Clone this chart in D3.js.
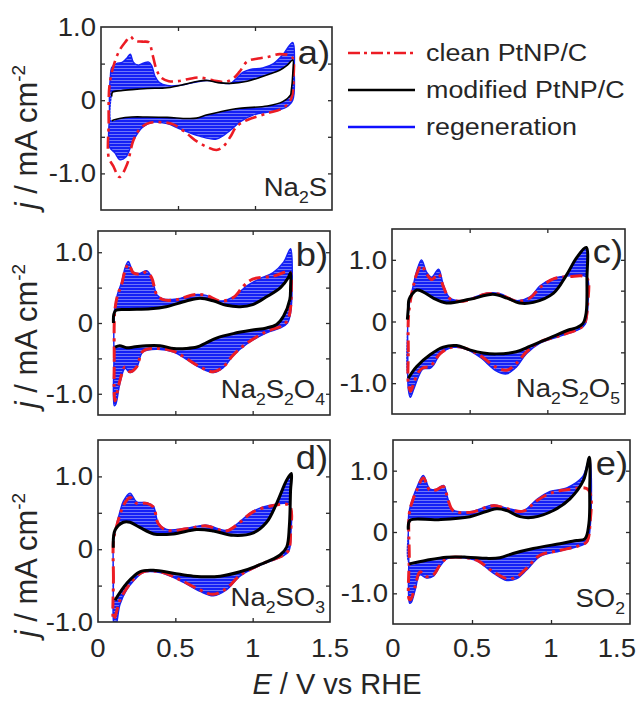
<!DOCTYPE html>
<html>
<head>
<meta charset="utf-8">
<script src="https://cdn.jsdelivr.net/npm/d3@7"></script>
<style>
  body { margin: 0; background: #fff; }
  svg { display: block; }
  text { font-family: "Liberation Sans", Arial, Helvetica, sans-serif; fill: #262626; }
</style>
</head>
<body>
<svg id="fig" width="638" height="702"></svg>
<script>
// Cyclic voltammograms, E (V vs RHE) vs j (mA cm^-2), as [E, j] pairs.

// a) Na2S
const aClean = [[0.05,-0.78],[0.05,-0.3],[0.05,0.0],[0.055,0.2],[0.08,0.46],[0.12,0.68],[0.16,0.8],[0.19,0.87],[0.22,0.81],[0.27,0.8],[0.31,0.79],[0.335,0.62],[0.36,0.42],[0.39,0.31],[0.44,0.26],[0.5,0.26],[0.57,0.29],[0.64,0.31],[0.73,0.27],[0.81,0.25],[0.86,0.3],[0.9,0.39],[0.95,0.53],[1.02,0.57],[1.08,0.59],[1.16,0.63],[1.24,0.59],[1.25,0.3],[1.235,0.02],[1.18,-0.11],[1.08,-0.18],[0.95,-0.27],[0.88,-0.36],[0.84,-0.5],[0.79,-0.64],[0.75,-0.68],[0.69,-0.64],[0.62,-0.56],[0.56,-0.46],[0.47,-0.33],[0.38,-0.3],[0.3,-0.32],[0.25,-0.4],[0.21,-0.55],[0.17,-0.87],[0.12,-1.05],[0.08,-0.9]];
const aModified = [[0.07,0.05],[0.075,0.11],[0.13,0.13],[0.2,0.145],[0.3,0.16],[0.43,0.17],[0.55,0.22],[0.63,0.26],[0.69,0.27],[0.76,0.24],[0.84,0.23],[0.95,0.26],[1.03,0.31],[1.1,0.36],[1.16,0.41],[1.21,0.48],[1.245,0.55],[1.245,0.35],[1.235,0.12],[1.23,0.07],[1.18,-0.02],[1.08,-0.08],[0.9,-0.11],[0.77,-0.16],[0.69,-0.2],[0.62,-0.245],[0.56,-0.25],[0.43,-0.235],[0.3,-0.23],[0.2,-0.23],[0.12,-0.25],[0.07,-0.28]];
const aRegen = [[0.055,-0.64],[0.055,-0.2],[0.055,0.1],[0.06,0.3],[0.07,0.45],[0.1,0.5],[0.14,0.52],[0.17,0.58],[0.19,0.63],[0.21,0.52],[0.24,0.48],[0.28,0.51],[0.31,0.52],[0.33,0.47],[0.35,0.33],[0.38,0.24],[0.43,0.2],[0.5,0.2],[0.6,0.24],[0.69,0.27],[0.77,0.24],[0.84,0.23],[0.88,0.3],[0.92,0.38],[0.97,0.42],[1.05,0.44],[1.12,0.5],[1.18,0.62],[1.245,0.79],[1.255,0.4],[1.245,0.0],[1.2,-0.1],[1.12,-0.15],[0.99,-0.2],[0.9,-0.3],[0.84,-0.41],[0.75,-0.53],[0.64,-0.49],[0.51,-0.39],[0.43,-0.32],[0.34,-0.3],[0.27,-0.37],[0.21,-0.55],[0.16,-0.78],[0.12,-0.81],[0.09,-0.72]];

// b) Na2S2O4
const bClean = [[0.105,-1.0],[0.105,-0.5],[0.105,0.0],[0.11,0.2],[0.125,0.38],[0.153,0.55],[0.175,0.74],[0.196,0.83],[0.215,0.76],[0.228,0.71],[0.27,0.69],[0.315,0.72],[0.347,0.64],[0.365,0.5],[0.38,0.4],[0.42,0.33],[0.51,0.33],[0.62,0.4],[0.7,0.39],[0.79,0.31],[0.875,0.36],[0.94,0.52],[1.0,0.62],[1.13,0.66],[1.24,0.72],[1.25,0.52],[1.24,0.14],[1.22,0.02],[1.18,-0.05],[1.09,-0.12],[0.96,-0.29],[0.875,-0.45],[0.81,-0.62],[0.745,-0.69],[0.66,-0.62],[0.57,-0.5],[0.49,-0.4],[0.38,-0.36],[0.29,-0.4],[0.25,-0.62],[0.207,-0.69],[0.175,-0.62],[0.142,-0.81],[0.11,-1.1]];
const bModified = [[0.1,0.0],[0.102,0.12],[0.116,0.18],[0.2,0.19],[0.34,0.2],[0.44,0.23],[0.57,0.31],[0.66,0.35],[0.75,0.31],[0.83,0.25],[0.92,0.23],[1.0,0.26],[1.09,0.37],[1.18,0.5],[1.23,0.64],[1.245,0.71],[1.245,0.5],[1.24,0.33],[1.2,0.1],[1.155,-0.02],[1.09,-0.07],[1.0,-0.1],[0.875,-0.15],[0.77,-0.21],[0.7,-0.28],[0.64,-0.34],[0.57,-0.36],[0.49,-0.36],[0.4,-0.32],[0.31,-0.32],[0.23,-0.34],[0.185,-0.35],[0.14,-0.32],[0.11,-0.34]];
const bRegen = [[0.105,-1.17],[0.103,-0.5],[0.103,0.0],[0.108,0.2],[0.125,0.4],[0.153,0.58],[0.175,0.78],[0.196,0.87],[0.215,0.78],[0.228,0.72],[0.27,0.7],[0.315,0.74],[0.347,0.64],[0.365,0.5],[0.38,0.4],[0.42,0.34],[0.51,0.34],[0.62,0.4],[0.7,0.39],[0.79,0.31],[0.875,0.37],[0.96,0.52],[1.04,0.62],[1.13,0.71],[1.2,0.86],[1.245,1.05],[1.255,0.5],[1.245,0.14],[1.225,0.0],[1.18,-0.07],[1.09,-0.14],[0.96,-0.3],[0.875,-0.46],[0.81,-0.63],[0.745,-0.7],[0.66,-0.63],[0.57,-0.51],[0.49,-0.41],[0.38,-0.37],[0.29,-0.41],[0.25,-0.63],[0.207,-0.7],[0.175,-0.64],[0.142,-0.85],[0.115,-1.15]];

// c) Na2S2O5
const cClean = [[0.105,-1.0],[0.105,-0.5],[0.105,0.03],[0.116,0.3],[0.14,0.6],[0.159,0.77],[0.19,0.91],[0.223,0.77],[0.255,0.68],[0.3,0.77],[0.33,0.57],[0.373,0.37],[0.46,0.33],[0.61,0.45],[0.695,0.44],[0.8,0.33],[0.888,0.38],[0.953,0.55],[1.04,0.69],[1.146,0.73],[1.253,0.71],[1.26,0.3],[1.24,-0.03],[1.21,-0.11],[1.08,-0.23],[0.953,-0.33],[0.867,-0.49],[0.8,-0.68],[0.738,-0.79],[0.67,-0.74],[0.567,-0.55],[0.48,-0.44],[0.395,-0.41],[0.31,-0.52],[0.27,-0.66],[0.245,-0.73],[0.2,-0.75],[0.17,-0.82],[0.14,-1.0],[0.12,-1.13]];
const cModified = [[0.099,0.03],[0.105,0.22],[0.11,0.36],[0.159,0.51],[0.2,0.48],[0.266,0.38],[0.35,0.3],[0.5,0.36],[0.65,0.44],[0.74,0.38],[0.82,0.3],[0.91,0.31],[1.04,0.46],[1.12,0.74],[1.19,1.04],[1.25,1.2],[1.255,0.68],[1.25,0.14],[1.23,-0.03],[1.19,-0.1],[1.146,-0.13],[1.02,-0.26],[0.89,-0.4],[0.8,-0.49],[0.67,-0.525],[0.587,-0.51],[0.5,-0.46],[0.416,-0.39],[0.33,-0.415],[0.245,-0.54],[0.159,-0.73],[0.105,-0.92]];
const cRegen = [[0.105,-1.1],[0.102,-0.5],[0.102,0.03],[0.113,0.3],[0.14,0.62],[0.159,0.82],[0.19,1.0],[0.223,0.8],[0.255,0.72],[0.3,0.85],[0.33,0.6],[0.373,0.38],[0.46,0.34],[0.61,0.46],[0.695,0.45],[0.8,0.34],[0.888,0.4],[0.953,0.58],[1.04,0.7],[1.146,0.74],[1.253,0.72],[1.262,0.3],[1.245,-0.04],[1.21,-0.12],[1.08,-0.24],[0.953,-0.35],[0.867,-0.52],[0.8,-0.74],[0.738,-0.85],[0.67,-0.8],[0.567,-0.58],[0.48,-0.45],[0.395,-0.42],[0.31,-0.53],[0.27,-0.7],[0.245,-0.76],[0.2,-0.77],[0.17,-0.9],[0.14,-1.1],[0.118,-1.23]];

// d) Na2SO3
const dClean = [[0.1,-0.97],[0.1,-0.4],[0.1,0.12],[0.116,0.28],[0.14,0.46],[0.164,0.6],[0.207,0.71],[0.25,0.63],[0.315,0.63],[0.358,0.58],[0.39,0.35],[0.444,0.26],[0.573,0.28],[0.7,0.32],[0.83,0.25],[0.918,0.37],[1.0,0.51],[1.134,0.6],[1.237,0.6],[1.245,0.21],[1.233,-0.01],[1.2,-0.08],[1.05,-0.21],[0.918,-0.36],[0.83,-0.54],[0.746,-0.62],[0.66,-0.56],[0.53,-0.42],[0.4,-0.31],[0.293,-0.31],[0.228,-0.42],[0.185,-0.54],[0.142,-0.7],[0.11,-0.93]];
const dModified = [[0.099,0.02],[0.11,0.26],[0.164,0.37],[0.207,0.37],[0.27,0.3],[0.36,0.21],[0.487,0.21],[0.638,0.27],[0.746,0.25],[0.875,0.19],[1.0,0.22],[1.09,0.37],[1.155,0.63],[1.22,0.95],[1.25,1.04],[1.245,0.81],[1.237,0.31],[1.22,0.03],[1.177,-0.08],[1.05,-0.21],[0.918,-0.31],[0.79,-0.37],[0.616,-0.37],[0.487,-0.33],[0.358,-0.29],[0.27,-0.31],[0.185,-0.47],[0.11,-0.7]];
const dRegen = [[0.105,-1.05],[0.1,-0.4],[0.1,0.12],[0.116,0.3],[0.14,0.5],[0.164,0.66],[0.207,0.77],[0.25,0.65],[0.315,0.64],[0.358,0.59],[0.39,0.36],[0.444,0.27],[0.573,0.29],[0.7,0.33],[0.83,0.26],[0.918,0.38],[1.0,0.52],[1.134,0.61],[1.237,0.61],[1.247,0.21],[1.235,-0.02],[1.2,-0.09],[1.05,-0.22],[0.918,-0.37],[0.83,-0.56],[0.746,-0.64],[0.66,-0.58],[0.53,-0.43],[0.4,-0.32],[0.293,-0.32],[0.228,-0.44],[0.185,-0.56],[0.142,-0.76],[0.115,-1.05]];

// e) SO2
const eClean = [[0.103,-1.1],[0.103,-0.4],[0.103,0.3],[0.125,0.52],[0.15,0.68],[0.192,0.88],[0.234,0.68],[0.276,0.69],[0.32,0.74],[0.35,0.51],[0.38,0.35],[0.487,0.32],[0.635,0.43],[0.72,0.38],[0.825,0.34],[0.91,0.51],[0.994,0.63],[1.1,0.69],[1.236,0.69],[1.247,0.14],[1.226,-0.16],[1.18,-0.22],[1.057,-0.3],[0.93,-0.38],[0.846,-0.59],[0.783,-0.73],[0.72,-0.76],[0.635,-0.65],[0.53,-0.46],[0.424,-0.41],[0.34,-0.43],[0.297,-0.54],[0.255,-0.7],[0.213,-0.73],[0.17,-0.65],[0.14,-0.89],[0.112,-1.1]];
const eModified = [[0.097,0.04],[0.108,0.19],[0.276,0.2],[0.487,0.25],[0.656,0.38],[0.72,0.35],[0.804,0.25],[0.888,0.24],[1.015,0.35],[1.12,0.54],[1.205,0.84],[1.243,1.22],[1.245,0.68],[1.24,0.14],[1.215,-0.11],[1.162,-0.14],[1.057,-0.19],[0.888,-0.27],[0.76,-0.35],[0.677,-0.42],[0.593,-0.43],[0.466,-0.41],[0.34,-0.41],[0.213,-0.46],[0.103,-0.52]];
const eRegen = [[0.105,-1.16],[0.1,-0.4],[0.1,0.3],[0.125,0.55],[0.15,0.72],[0.192,0.92],[0.234,0.7],[0.276,0.7],[0.32,0.76],[0.35,0.52],[0.38,0.36],[0.487,0.33],[0.635,0.44],[0.72,0.39],[0.825,0.35],[0.91,0.53],[0.994,0.66],[1.1,0.72],[1.2,0.9],[1.243,1.2],[1.25,0.14],[1.228,-0.17],[1.18,-0.23],[1.057,-0.31],[0.93,-0.4],[0.846,-0.62],[0.783,-0.76],[0.72,-0.79],[0.635,-0.67],[0.53,-0.47],[0.424,-0.42],[0.34,-0.44],[0.297,-0.56],[0.255,-0.72],[0.213,-0.75],[0.17,-0.7],[0.14,-0.95],[0.115,-1.15]];

// Axis ticks and labels
const xTickValues = [0, 0.5, 1, 1.5];
const xTickText = ["0", "0.5", "1", "1.5"];
const yLabelValues = [-1, 0, 1];
const yLabelText = ["-1.0", "0", "1.0"];
const seriesNames = ["clean PtNP/C", "modified PtNP/C", "regeneration"];
const panelLetters = ["a)", "b)", "c)", "d)", "e)"];
// chemical formulae: [text, isSubscript]
const compounds = [
  [["Na",0],["2",1],["S",0]],
  [["Na",0],["2",1],["S",0],["2",1],["O",0],["4",1]],
  [["Na",0],["2",1],["S",0],["2",1],["O",0],["5",1]],
  [["Na",0],["2",1],["SO",0],["3",1]],
  [["SO",0],["2",1]]
];

const RED = "#ec1c24", BLUE = "#1420f5", FRAME = "#2a2a2a";
const SX = 1.1;          // slight horizontal widening of the sans text
const DASH = "12,5,3,5"; // dash-dot

const layout = [
  { clean: aClean, modified: aModified, regen: aRegen, x0: 101, x1: 332, y0: 27,  y1: 210, yDom: [-1.5, 1.0], xLabels: false, blackW: 1.6, redW: 2.6, letterY: 64,  compY: 196 },
  { clean: bClean, modified: bModified, regen: bRegen, x0: 98,  x1: 330, y0: 231, y1: 415, yDom: [-1.3, 1.3], xLabels: false, blackW: 3,   redW: 3,   letterY: 266, compY: 398 },
  { clean: cClean, modified: cModified, regen: cRegen, x0: 392, x1: 625, y0: 229, y1: 414, yDom: [-1.5, 1.5], xLabels: false, blackW: 3,   redW: 3,   letterY: 263, compY: 397 },
  { clean: dClean, modified: dModified, regen: dRegen, x0: 98,  x1: 330, y0: 440, y1: 622, yDom: [-1.0, 1.5], xLabels: true,  blackW: 3,   redW: 3,   letterY: 469, compY: 606 },
  { clean: eClean, modified: eModified, regen: eRegen, x0: 393, x1: 630, y0: 440, y1: 624, yDom: [-1.5, 1.5], xLabels: true,  blackW: 3,   redW: 3,   letterY: 475, compY: 607 }
];

const svg = d3.select("#fig");
const defs = svg.append("defs");

// hatch that mimics the stack of thin regeneration cycles
const pat = defs.append("pattern").attr("id", "regenHatch")
  .attr("patternUnits", "userSpaceOnUse").attr("width", 6).attr("height", 3);
pat.append("rect").attr("width", 6).attr("height", 3).attr("fill", BLUE);
pat.append("rect").attr("y", 2).attr("width", 6).attr("height", 1).attr("fill", "#ffffff").attr("opacity", 0.38);

function stretched(parent, x, y, anchor, size, sx = SX) {
  return parent.append("text")
    .attr("transform", `translate(${x},${y}) scale(${sx},1)`)
    .attr("text-anchor", anchor)
    .attr("font-size", size);
}

layout.forEach((p, i) => {
  const x = d3.scaleLinear().domain([0, 1.5]).range([p.x0, p.x1]);
  const y = d3.scaleLinear().domain(p.yDom).range([p.y1, p.y0]);
  const g = svg.append("g");

  defs.append("clipPath").attr("id", "clip" + i)
    .append("rect").attr("x", p.x0).attr("y", p.y0)
    .attr("width", p.x1 - p.x0).attr("height", p.y1 - p.y0);

  const plot = g.append("g").attr("clip-path", `url(#clip${i})`);
  const open = d3.line().x(d => x(d[0])).y(d => y(d[1])).curve(d3.curveCatmullRom.alpha(0.5));
  const closed = d3.line().x(d => x(d[0])).y(d => y(d[1])).curve(d3.curveCatmullRomClosed.alpha(0.5));

  // regeneration cycles: band between the modified loop and the outermost cycle
  plot.append("path")
    .attr("d", closed(p.regen) + closed(p.modified))
    .attr("fill", "url(#regenHatch)")
    .attr("fill-rule", "evenodd");
  plot.append("path").attr("d", closed(p.regen))
    .attr("fill", "none").attr("stroke", BLUE).attr("stroke-width", 1.4);

  // clean electrode
  plot.append("path").attr("d", closed(p.clean))
    .attr("fill", "none").attr("stroke", RED).attr("stroke-width", p.redW)
    .attr("stroke-dasharray", DASH);

  // modified electrode
  plot.append("path").attr("d", open(p.modified))
    .attr("fill", "none").attr("stroke", "#000").attr("stroke-width", p.blackW)
    .attr("stroke-linejoin", "round");

  // inward tick marks on all four sides
  const yTicks = d3.range(Math.ceil(p.yDom[0] * 2) / 2, p.yDom[1] + 1e-9, 0.5)
    .filter(v => v > p.yDom[0] + 1e-9 && v < p.yDom[1] - 1e-9);
  const xTicks = [0.5, 1.0];
  const tickStyle = sel => {
    sel.select(".domain").remove();
    sel.selectAll(".tick line").attr("stroke", FRAME).attr("stroke-width", 1.3);
  };
  g.append("g").attr("transform", `translate(${p.x0},0)`)
    .call(d3.axisLeft(y).tickValues(yTicks).tickSize(-4).tickFormat("")).call(tickStyle);
  g.append("g").attr("transform", `translate(${p.x1},0)`)
    .call(d3.axisRight(y).tickValues(yTicks).tickSize(-4).tickFormat("")).call(tickStyle);
  g.append("g").attr("transform", `translate(0,${p.y1})`)
    .call(d3.axisBottom(x).tickValues(xTicks).tickSize(-4).tickFormat("")).call(tickStyle);
  g.append("g").attr("transform", `translate(0,${p.y0})`)
    .call(d3.axisTop(x).tickValues(xTicks).tickSize(-4).tickFormat("")).call(tickStyle);

  // frame
  g.append("rect").attr("x", p.x0).attr("y", p.y0)
    .attr("width", p.x1 - p.x0).attr("height", p.y1 - p.y0)
    .attr("fill", "none").attr("stroke", FRAME).attr("stroke-width", 1.6);

  // y tick labels
  yLabelValues.forEach((v, k) => {
    stretched(g, p.x0 - 5, y(v) + 9, "end", 25).text(yLabelText[k]);
  });
  // x tick labels on the bottom row (the last one kept inside the figure)
  if (p.xLabels) {
    xTickValues.forEach((v, k) => {
      const last = k === xTickValues.length - 1 && x(v) + 22 > 636;
      stretched(g, last ? 636 : x(v), 657, last ? "end" : "middle", 25).text(xTickText[k]);
    });
  }

  // panel letter
  stretched(g, p.x1 - 2, p.letterY, "end", 33).text(panelLetters[i]);

  // compound
  const ct = stretched(g, p.x1 - 5, p.compY, "end", 25);
  compounds[i].forEach(([s, sub], k) => {
    const prev = k > 0 ? compounds[i][k - 1][1] : 0;
    const t = ct.append("tspan").text(s);
    if (sub) t.attr("font-size", 16).attr("dy", prev ? 0 : 7);
    else if (prev) t.attr("dy", -7);
  });
});

// y axis titles
[137, 336, 565].forEach(cy => {
  const t = svg.append("text")
    .attr("transform", `translate(37,${cy}) rotate(-90)`)
    .attr("text-anchor", "middle").attr("font-size", 31);
  t.append("tspan").attr("font-style", "italic").text("j");
  t.append("tspan").text(" / mA cm");
  t.append("tspan").attr("font-size", 19).attr("dy", -12).text("-2");
});

// x axis title
const xt = svg.append("text").attr("x", 337).attr("y", 694)
  .attr("text-anchor", "middle").attr("font-size", 29);
xt.append("tspan").attr("font-style", "italic").text("E");
xt.append("tspan").text(" / V vs RHE");

// legend
const legend = svg.append("g");
const legendY = [53, 90, 127];
const legendStyle = [
  { stroke: RED, width: 2.4, dash: "12,4,3,4" },
  { stroke: "#000", width: 2.6, dash: null },
  { stroke: "#1010ff", width: 2.4, dash: null }
];
seriesNames.forEach((name, k) => {
  legend.append("line").attr("x1", 348).attr("x2", 415)
    .attr("y1", legendY[k]).attr("y2", legendY[k])
    .attr("stroke", legendStyle[k].stroke).attr("stroke-width", legendStyle[k].width)
    .attr("stroke-dasharray", legendStyle[k].dash);
  stretched(legend, 426, legendY[k] + 8, "start", 24, 1.12).text(name);
});
</script>
</body>
</html>
